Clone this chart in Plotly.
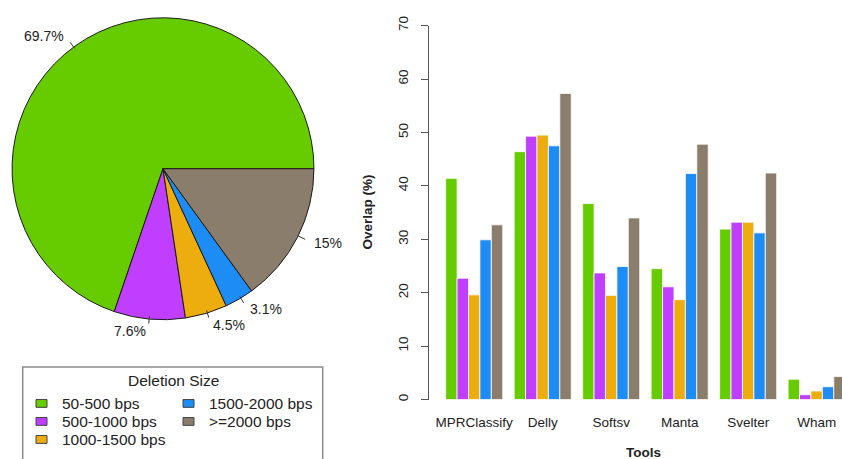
import math
import plotly.graph_objects as go

# ---- data ----
size_classes = ["50-500 bps", "500-1000 bps", "1000-1500 bps", "1500-2000 bps", ">=2000 bps"]
size_colors = ["#66CC00", "#BF3EFF", "#EEAD0E", "#1E8CF5", "#8B7D6B"]
deletion_share = [69.7, 7.6, 4.5, 3.1, 15.0]
share_labels = ["69.7%", "7.6%", "4.5%", "3.1%", "15%"]

tools = ["MPRClassify", "Delly", "Softsv", "Manta", "Svelter", "Wham"]
overlap_50_500 = [41.4, 46.4, 36.7, 24.5, 31.9, 3.8]
overlap_500_1000 = [22.7, 49.3, 23.7, 21.1, 33.2, 0.9]
overlap_1000_1500 = [19.6, 49.5, 19.5, 18.7, 33.2, 1.6]
overlap_1500_2000 = [29.9, 47.5, 24.9, 42.3, 31.2, 2.4]
overlap_2000_plus = [32.7, 57.3, 34.0, 47.8, 42.4, 4.3]
overlap_series = [overlap_50_500, overlap_500_1000, overlap_1000_1500,
                  overlap_1500_2000, overlap_2000_plus]
y_ticks = [0, 10, 20, 30, 40, 50, 60, 70]

# ---- page geometry (pixels) ----
W, H = 842, 459
FONT = "Liberation Sans, Arial, sans-serif"
TXT = "#222222"


def px(x):
    return x / W


def py(y):
    return 1 - y / H


# pie placement
PIE_CX, PIE_CY, PIE_R = 163, 163, 152
PIE_BOX = PIE_R + 3  # plotly draws the disc a little inside its domain

total = sum(deletion_share)
# slices run counter-clockwise from 3 o'clock; plotly anchors the END of the
# first slice at `rotation` (degrees clockwise from 12 o'clock) in this mode
first_end_deg = deletion_share[0] / total * 360.0
pie_rotation = 90.0 - first_end_deg

fig = go.Figure()

fig.add_trace(go.Pie(
    labels=size_classes,
    values=deletion_share,
    sort=False,
    direction="counterclockwise",
    rotation=pie_rotation,
    marker=dict(colors=size_colors, line=dict(color="#1a1a1a", width=1)),
    textinfo="none",
    hoverinfo="label+percent",
    showlegend=False,
    domain=dict(x=[px(PIE_CX - PIE_BOX), px(PIE_CX + PIE_BOX)],
                y=[py(PIE_CY + PIE_BOX), py(PIE_CY - PIE_BOX)]),
))

# grouped bars
for name, color, vals in zip(size_classes, size_colors, overlap_series):
    fig.add_trace(go.Bar(
        x=tools, y=vals, name=name,
        marker=dict(color=color, line=dict(color="white", width=0.8)),
        showlegend=False,
        xaxis="x", yaxis="y",
    ))

shapes = []
annotations = []

# pie slice labels with short leader lines
cum = 0.0
for val, lab in zip(deletion_share, share_labels):
    mid = (cum + val / 2) / total * 2 * math.pi
    cum += val
    c, s = math.cos(mid), math.sin(mid)
    x0, y0 = PIE_CX + PIE_R * c, PIE_CY - PIE_R * s
    x1, y1 = PIE_CX + 1.05 * PIE_R * c, PIE_CY - 1.05 * PIE_R * s
    xt, yt = PIE_CX + 1.1 * PIE_R * c, PIE_CY - 1.1 * PIE_R * s
    shapes.append(dict(type="line", xref="paper", yref="paper",
                       x0=px(x0), y0=py(y0), x1=px(x1), y1=py(y1),
                       line=dict(color="#333333", width=1)))
    annotations.append(dict(x=px(xt), y=py(yt), xref="paper", yref="paper",
                            text=lab, showarrow=False,
                            xanchor="left" if c > 0 else "right",
                            yanchor="middle",
                            font=dict(family=FONT, size=14, color=TXT)))

# legend box drawn by hand (column-major layout)
shapes.append(dict(type="rect", xref="paper", yref="paper",
                   x0=px(22.7), x1=px(322.7), y0=py(366.7), y1=py(475),
                   line=dict(color="#8a8a8a", width=1.5), fillcolor="white"))
annotations.append(dict(x=px(173), y=py(380), xref="paper", yref="paper",
                        text="Deletion Size", showarrow=False,
                        xanchor="center", yanchor="middle",
                        font=dict(family=FONT, size=15.5, color=TXT)))
col_sq = [36, 183]
col_txt = [60, 207]
row_y = [404, 422.5, 441]
for i, (name, color) in enumerate(zip(size_classes, size_colors)):
    col, row = divmod(i, 3)
    yc = row_y[row]
    shapes.append(dict(type="rect", xref="paper", yref="paper",
                       x0=px(col_sq[col]), x1=px(col_sq[col] + 11),
                       y0=py(yc - 4), y1=py(yc + 4),
                       line=dict(color="#444444", width=1), fillcolor=color))
    annotations.append(dict(x=px(col_txt[col]), y=py(yc), xref="paper", yref="paper",
                            text=name, showarrow=False,
                            xanchor="left", yanchor="middle",
                            font=dict(family=FONT, size=15.5, color=TXT)))

# bar chart axis titles
annotations.append(dict(x=px(368), y=py(208), xref="paper", yref="paper",
                        text="<b>Overlap (%)</b>", showarrow=False, textangle=-90,
                        xanchor="center", yanchor="middle",
                        font=dict(family=FONT, size=13.5, color=TXT)))
annotations.append(dict(x=px(643), y=py(454), xref="paper", yref="paper",
                        text="<b>Tools</b>", showarrow=False,
                        xanchor="center", yanchor="middle",
                        font=dict(family=FONT, size=13.5, color=TXT)))

fig.update_layout(
    width=W, height=H,
    margin=dict(l=0, r=0, t=0, b=0),
    paper_bgcolor="white", plot_bgcolor="white",
    barmode="group", bargap=1 / 6, bargroupgap=0,
    font=dict(family=FONT, color=TXT),
    xaxis=dict(domain=[px(429), 1.0], range=[-0.66, 5.37],
               showline=False, showgrid=False, zeroline=False, ticks="",
               tickfont=dict(family=FONT, size=13.5, color=TXT),
               ticklabelstandoff=13),
    yaxis=dict(domain=[py(400), py(16)], range=[0, 70],
               tickvals=y_ticks, ticks="outside", ticklen=7, tickwidth=1,
               tickcolor="#555555",
               showline=True, linecolor="#555555", linewidth=1,
               showgrid=False, zeroline=False, tickangle=-90,
               tickfont=dict(family=FONT, size=13.5, color=TXT),
               ticklabelstandoff=8),
    shapes=shapes,
    annotations=annotations,
)

fig.write_html("out.html")
